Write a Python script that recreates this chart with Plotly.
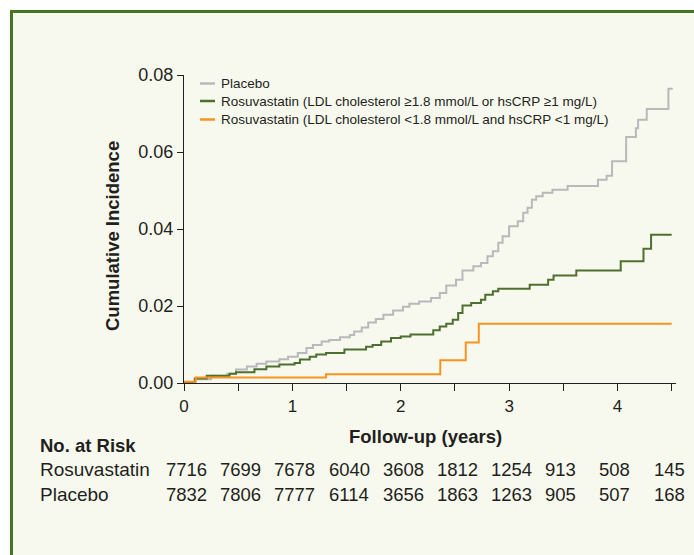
import plotly.graph_objects as go

# ---------------- data ----------------
placebo_t = [0, 0.10, 0.25, 0.40, 0.48, 0.58, 0.67, 0.76, 0.88, 0.96, 1.05, 1.13, 1.19, 1.27, 1.34,
             1.44, 1.53, 1.57, 1.64, 1.70, 1.77, 1.84, 1.93, 2.02, 2.08, 2.17, 2.28, 2.36, 2.42,
             2.51, 2.57, 2.67, 2.74, 2.80, 2.85, 2.90, 2.94, 3.00, 3.08, 3.13, 3.17, 3.21, 3.25,
             3.31, 3.40, 3.54, 3.82, 3.90, 3.95, 4.08, 4.17, 4.19, 4.27, 4.47, 4.51]
placebo_v = [0, 0.0010, 0.0019, 0.0024, 0.0035, 0.0043, 0.0050, 0.0056, 0.0062, 0.0068, 0.0078,
             0.0091, 0.0099, 0.0108, 0.0112, 0.0119, 0.0125, 0.0134, 0.0144, 0.0157, 0.0166,
             0.0177, 0.0188, 0.0198, 0.0206, 0.0212, 0.0221, 0.0234, 0.0253, 0.0268, 0.0292,
             0.0303, 0.0312, 0.0329, 0.0342, 0.0364, 0.0381, 0.0407, 0.0420, 0.0442, 0.0455,
             0.0476, 0.0485, 0.0494, 0.0502, 0.0512, 0.0528, 0.0538, 0.0576, 0.0639, 0.0662,
             0.0684, 0.0712, 0.0764, 0.0764]

high_t = [0, 0.10, 0.21, 0.42, 0.48, 0.65, 0.76, 0.88, 1.02, 1.07, 1.16, 1.22, 1.31, 1.48, 1.68,
          1.74, 1.82, 1.91, 2.00, 2.09, 2.30, 2.36, 2.42, 2.48, 2.53, 2.57, 2.65, 2.74, 2.78,
          2.85, 2.90, 3.19, 3.36, 3.41, 3.62, 4.03, 4.24, 4.31, 4.50]
high_v = [0, 0.0012, 0.0019, 0.0024, 0.0028, 0.0036, 0.0043, 0.0048, 0.0052, 0.0061, 0.0068,
          0.0074, 0.0078, 0.0087, 0.0094, 0.0099, 0.0108, 0.0117, 0.0121, 0.0126, 0.0137,
          0.0147, 0.0154, 0.0164, 0.0182, 0.0201, 0.0208, 0.0216, 0.0229, 0.0238, 0.0245,
          0.0255, 0.0268, 0.0279, 0.0292, 0.0316, 0.0349, 0.0385, 0.0385]

low_t = [0, 0.108, 1.31, 2.365, 2.60, 2.72, 4.50]
low_v = [0.0003, 0.0014, 0.0023, 0.0059, 0.0105, 0.0154, 0.0154]

series_names = ["Placebo",
                "Rosuvastatin (LDL cholesterol \u22651.8 mmol/L or hsCRP \u22651 mg/L)",
                "Rosuvastatin (LDL cholesterol <1.8 mmol/L and hsCRP <1 mg/L)"]

risk_times = [0, 0.5, 1.0, 1.5, 2.0, 2.5, 3.0, 3.5, 4.0, 4.5]
risk_rosuvastatin = [7716, 7699, 7678, 6040, 3608, 1812, 1254, 913, 508, 145]
risk_placebo = [7832, 7806, 7777, 6114, 3656, 1863, 1263, 905, 507, 168]

x_tickvals = [0, 0.5, 1, 1.5, 2, 2.5, 3, 3.5, 4, 4.5]
x_ticktext = ["0", "", "1", "", "2", "", "3", "", "4", ""]
y_tickvals = [0, 0.02, 0.04, 0.06, 0.08]

# ---------------- style ----------------
GRAY = "#b8b9bb"
GREEN = "#4d6f2f"
ORANGE = "#f7931e"
INK = "#231f20"
CREAM = "#f8f9ee"
BORDER = "#4a7520"
FONT = "Liberation Sans, Arial, sans-serif"

W, H = 694, 555
L, R, T, B = 184, 18, 75, 172
PW, PH = W - L - R, H - T - B


def px_x(p):
    return (p - L) / PW


def px_y(p):
    return (T + PH - p) / PH


fig = go.Figure()
colors = [GRAY, GREEN, ORANGE]
for t, v, c, n in [(placebo_t, placebo_v, GRAY, series_names[0]),
                   (high_t, high_v, GREEN, series_names[1]),
                   (low_t, low_v, ORANGE, series_names[2])]:
    fig.add_trace(go.Scatter(x=t, y=v, mode="lines", line=dict(color=c, width=2, shape="hv"),
                             name=n, showlegend=False, hoverinfo="skip"))

shapes = [dict(type="rect", xref="paper", yref="paper",
               x0=px_x(11.5), y0=px_y(11.5), x1=px_x(760), y1=px_y(640),
               line=dict(color=BORDER, width=3), fillcolor=CREAM, layer="below")]
annotations = []

# manual legend
leg_y = [83.5, 101, 119.5]
for yy, c, n in zip(leg_y, colors, series_names):
    shapes.append(dict(type="line", xref="paper", yref="paper",
                       x0=px_x(200), x1=px_x(215), y0=px_y(yy), y1=px_y(yy),
                       line=dict(color=c, width=2.5)))
    annotations.append(dict(xref="paper", yref="paper", x=px_x(219), y=px_y(yy),
                            xanchor="left", yanchor="middle", text=n, showarrow=False,
                            font=dict(size=13.5, color=INK, family=FONT)))

# risk table
annotations.append(dict(xref="paper", yref="paper", x=px_x(38), y=px_y(445),
                        xanchor="left", yanchor="middle", text="<b>No. at Risk</b>",
                        showarrow=False, font=dict(size=18.5, color=INK, family=FONT)))
for label, vals, yy in [("Rosuvastatin", risk_rosuvastatin, 469),
                        ("Placebo", risk_placebo, 494.5)]:
    annotations.append(dict(xref="paper", yref="paper", x=px_x(38), y=px_y(yy),
                            xanchor="left", yanchor="middle", text=label, showarrow=False,
                            font=dict(size=19, color=INK, family=FONT)))
    for t, v in zip(risk_times, vals):
        annotations.append(dict(xref="x", yref="paper", x=t, y=px_y(yy), xshift=-20,
                                xanchor="left", yanchor="middle", text=str(v), showarrow=False,
                                font=dict(size=18.5, color=INK, family=FONT)))

# x axis title
annotations.append(dict(xref="paper", yref="paper", x=px_x(425), y=px_y(436),
                        xanchor="center", yanchor="middle", text="<b>Follow-up (years)</b>",
                        showarrow=False, font=dict(size=18.5, color=INK, family=FONT)))
# y axis title
annotations.append(dict(xref="paper", yref="paper", x=px_x(112.5), y=px_y(236.5),
                        xanchor="center", yanchor="middle", text="<b>Cumulative Incidence</b>",
                        textangle=-90, showarrow=False,
                        font=dict(size=18.5, color=INK, family=FONT)))

fig.update_layout(
    width=W, height=H,
    margin=dict(l=L, r=R, t=T, b=B, autoexpand=False),
    paper_bgcolor="white", plot_bgcolor="rgba(0,0,0,0)",
    font=dict(family=FONT, color=INK, size=16),
    shapes=shapes, annotations=annotations, showlegend=False,
    xaxis=dict(range=[0, 4.54], tickvals=x_tickvals, ticktext=x_ticktext,
               ticks="outside", ticklen=7, tickwidth=1.3, tickcolor=INK,
               showline=True, linecolor=INK, linewidth=1.3, showgrid=False, zeroline=False,
               tickfont=dict(size=17, color=INK, family=FONT), fixedrange=True),
    yaxis=dict(range=[0, 0.08], tickvals=y_tickvals, tickformat=".2f",
               ticks="outside", ticklen=6, tickwidth=1.3, tickcolor=INK,
               showline=True, linecolor=INK, linewidth=1.3, showgrid=False, zeroline=False,
               tickfont=dict(size=18, color=INK, family=FONT), fixedrange=True),
)

fig.write_html("out.html", config={"displayModeBar": False},
               post_script="document.body.style.margin='0';document.body.style.overflow='hidden';")
